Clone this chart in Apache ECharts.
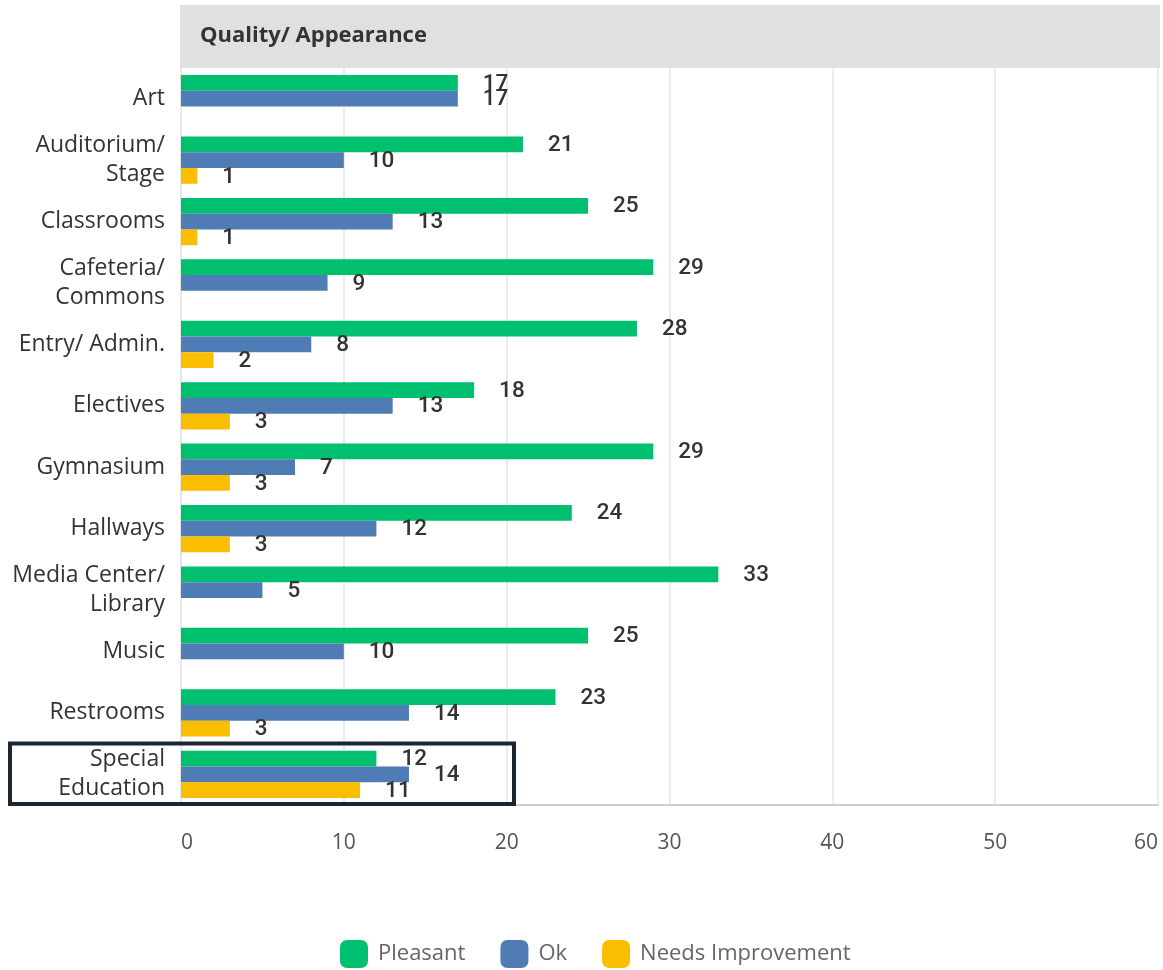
<!DOCTYPE html>
<html>
<head>
<meta charset="utf-8">
<script src="https://cdn.jsdelivr.net/npm/echarts@6/dist/echarts.min.js"></script>
<style>
html,body{margin:0;padding:0;background:#fff;}
#chart{width:1163px;height:970px;}
</style>
</head>
<body>
<div id="chart"></div>
<script>
const title = 'Quality/ Appearance';
const categories = ['Art', 'Auditorium/\nStage', 'Classrooms', 'Cafeteria/\nCommons', 'Entry/ Admin.', 'Electives', 'Gymnasium', 'Hallways', 'Media Center/\nLibrary', 'Music', 'Restrooms', 'Special\nEducation'];
const seriesNames = ['Pleasant', 'Ok', 'Needs Improvement'];
const pleasant = [17, 21, 25, 29, 28, 18, 29, 24, 33, 25, 23, 12];
const ok = [17, 10, 13, 9, 8, 13, 7, 12, 5, 10, 14, 14];
const needsImprovement = [null, 1, 1, null, 2, 3, 3, 3, null, null, 3, 11];
const xTicks = [0, 10, 20, 30, 40, 50, 60];
const highlighted = 'Special\nEducation';

const colors = ['#00BF6F', '#507CB6', '#F9BE00'];
const chart = echarts.init(document.getElementById('chart'));

const labelStyle = {
  show: true,
  position: 'right',
  distance: 25,
  color: '#333',
  fontFamily: 'Roboto, sans-serif',
  fontWeight: 500,
  fontSize: 22.5,
  offset: [0, 1]
};

function mkSeries(name, data, color) {
  return {
    name: name,
    type: 'bar',
    data: data,
    barGap: '0%',
    barCategoryGap: '23%',
    itemStyle: { color: color },
    label: labelStyle,
    emphasis: { disabled: true }
  };
}

function headerGraphics() {
  return [
    { type: 'rect', left: 180, top: 5, shape: { width: 980, height: 63 }, style: { fill: '#e0e0e0' }, z: 0 },
    { type: 'text', left: 200, top: 25, style: { text: title, font: 'bold 22px "Open Sans", sans-serif', fill: '#333' }, z: 1 }
  ];
}

chart.setOption({
  animation: false,
  grid: { left: 181, right: 5, top: 68, bottom: 165, containLabel: false, outerBoundsMode: 'none' },
  graphic: headerGraphics(),
  legend: {
    data: seriesNames,
    left: 340,
    top: 940,
    padding: 0,
    icon: 'roundRect',
    itemWidth: 28,
    itemHeight: 28,
    itemGap: 35,
    textStyle: { color: '#666', fontSize: 22, fontFamily: '"Open Sans", sans-serif', padding: [0, 0, 0, 5] },
    selectedMode: false
  },
  xAxis: {
    type: 'value',
    min: xTicks[0],
    max: xTicks[xTicks.length - 1],
    interval: 10,
    axisLine: { show: true, lineStyle: { color: '#cfcfcf', width: 2 } },
    axisTick: { show: false },
    splitLine: { show: true, lineStyle: { color: '#e6e6e6', width: 1.5 } },
    axisLabel: { color: '#555', fontSize: 21, fontFamily: '"Open Sans", sans-serif', margin: 28, alignMinLabel: 'left', alignMaxLabel: 'right' }
  },
  yAxis: {
    type: 'category',
    data: categories,
    inverse: true,
    axisLine: { show: true, lineStyle: { color: '#e6e6e6', width: 1.5 } },
    axisTick: { show: false },
    splitLine: { show: false },
    axisLabel: { color: '#333', fontSize: 23, fontFamily: '"Open Sans", sans-serif', margin: 16, lineHeight: 29, align: 'right' }
  },
  series: [
    mkSeries(seriesNames[0], pleasant, colors[0]),
    mkSeries(seriesNames[1], ok, colors[1]),
    mkSeries(seriesNames[2], needsImprovement, colors[2])
  ]
});

// highlight box around the last category band
const c = chart.convertToPixel({ yAxisIndex: 0 }, highlighted);
const prev = chart.convertToPixel({ yAxisIndex: 0 }, categories[categories.length - 2]);
const band = c - prev;
chart.setOption({
  graphic: headerGraphics().concat([
    { type: 'rect', shape: { x: 10, y: c - band / 2, width: 504, height: band - 1 }, style: { fill: 'none', stroke: '#1c2630', lineWidth: 4 }, z: 10 }
  ])
}, { replaceMerge: ['graphic'] });
</script>
</body>
</html>
